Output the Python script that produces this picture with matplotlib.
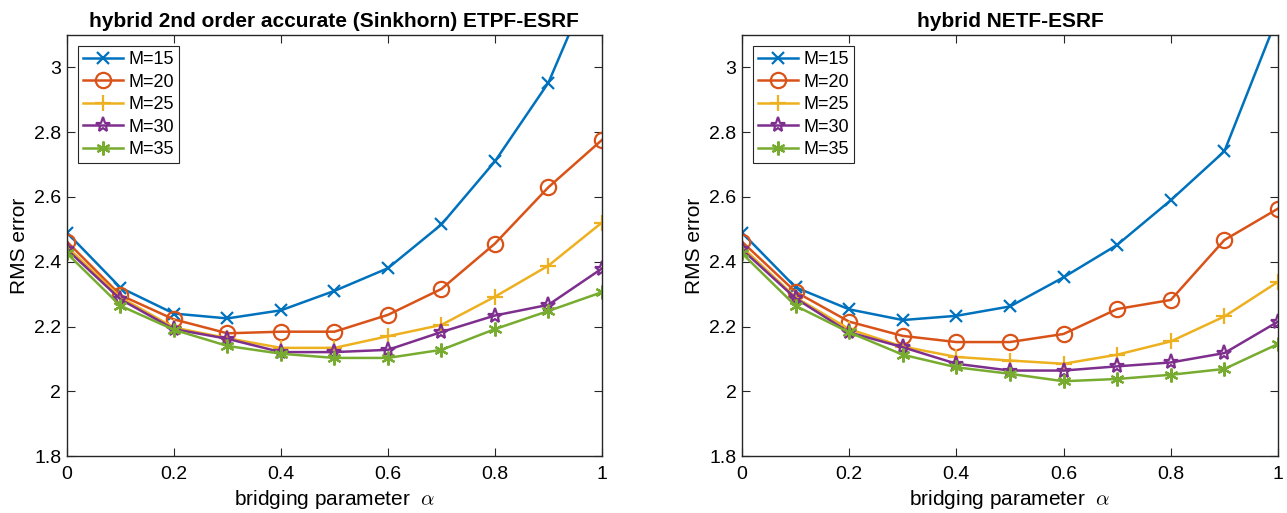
import matplotlib
matplotlib.use("Agg")
from matplotlib import pyplot as plt

alpha = [0, 0.1, 0.2, 0.3, 0.4, 0.5, 0.6, 0.7, 0.8, 0.9, 1.0]
labels = ["M=15", "M=20", "M=25", "M=30", "M=35"]

# hybrid 2nd order accurate (Sinkhorn) ETPF-ESRF
etpf_m15 = [2.49, 2.32, 2.24, 2.225, 2.25, 2.31, 2.38, 2.515, 2.71, 2.953, 3.34]
etpf_m20 = [2.462, 2.297, 2.222, 2.179, 2.184, 2.184, 2.236, 2.316, 2.456, 2.63, 2.776]
etpf_m25 = [2.446, 2.29, 2.197, 2.164, 2.134, 2.134, 2.17, 2.205, 2.292, 2.388, 2.521]
etpf_m30 = [2.438, 2.284, 2.192, 2.162, 2.121, 2.121, 2.128, 2.183, 2.234, 2.267, 2.379]
etpf_m35 = [2.426, 2.264, 2.19, 2.14, 2.116, 2.103, 2.103, 2.128, 2.192, 2.248, 2.306]

# hybrid NETF-ESRF
netf_m15 = [2.49, 2.321, 2.253, 2.22, 2.233, 2.262, 2.352, 2.452, 2.59, 2.741, 3.16]
netf_m20 = [2.462, 2.307, 2.215, 2.171, 2.152, 2.152, 2.177, 2.254, 2.282, 2.467, 2.564]
netf_m25 = [2.446, 2.29, 2.192, 2.138, 2.106, 2.095, 2.085, 2.113, 2.154, 2.231, 2.338]
netf_m30 = [2.438, 2.287, 2.182, 2.136, 2.085, 2.064, 2.064, 2.077, 2.089, 2.118, 2.215]
netf_m35 = [2.426, 2.264, 2.182, 2.113, 2.074, 2.054, 2.031, 2.038, 2.051, 2.069, 2.146]

yticks = [1.8, 2.0, 2.2, 2.4, 2.6, 2.8, 3.0]
ytick_labels = ["1.8", "2", "2.2", "2.4", "2.6", "2.8", "3"]
xticks = [0, 0.2, 0.4, 0.6, 0.8, 1.0]
xtick_labels = ["0", "0.2", "0.4", "0.6", "0.8", "1"]

colors = ["#0072BD", "#D95319", "#EDB120", "#7E2F8E", "#77AC30"]
markers = ["x", "o", "+", "*", (6, 2, 0)]
msizes = [8, 11, 11, 11, 10]

plt.rcParams["font.family"] = ["Liberation Sans", "DejaVu Sans"]
plt.rcParams["mathtext.fontset"] = "cm"

fig = plt.figure(figsize=(12.87, 5.13), dpi=100)
ax1 = fig.add_axes([0.052, 0.111, 0.4157, 0.8207])
ax2 = fig.add_axes([0.5765, 0.111, 0.4165, 0.8207])

panels = [
    (ax1, "hybrid 2nd order accurate (Sinkhorn) ETPF-ESRF",
     [etpf_m15, etpf_m20, etpf_m25, etpf_m30, etpf_m35]),
    (ax2, "hybrid NETF-ESRF",
     [netf_m15, netf_m20, netf_m25, netf_m30, netf_m35]),
]

for ax, title, series in panels:
    for i, ys in enumerate(series):
        ax.plot(alpha, ys, color=colors[i], marker=markers[i], markersize=msizes[i],
                markerfacecolor="none", markeredgewidth=1.6, linewidth=1.8,
                label=labels[i])
    ax.set_xlim(0, 1)
    ax.set_ylim(1.8, 3.1)
    ax.set_xticks(xticks)
    ax.set_xticklabels(xtick_labels)
    ax.set_yticks(yticks)
    ax.set_yticklabels(ytick_labels)
    ax.tick_params(direction="in", top=True, right=True, labelsize=14,
                   length=6, color="#262626", pad=4)
    ax.tick_params(axis="x", pad=7)
    for s in ax.spines.values():
        s.set_color("#262626")
        s.set_linewidth(1.0)
    ax.set_title(title, fontsize=15, fontweight="bold", pad=6)
    ax.set_xlabel(r"bridging parameter  $\alpha$", fontsize=15, labelpad=4)
    ax.set_ylabel("RMS error", fontsize=15, labelpad=4)
    leg = ax.legend(loc="upper left", fontsize=13, fancybox=False, framealpha=1,
                    edgecolor="#262626", handlelength=2.2, borderaxespad=0.6,
                    labelspacing=0.3, handletextpad=0.3, borderpad=0.3)
    leg.get_frame().set_linewidth(0.8)

fig.savefig("out.png", dpi=100)
